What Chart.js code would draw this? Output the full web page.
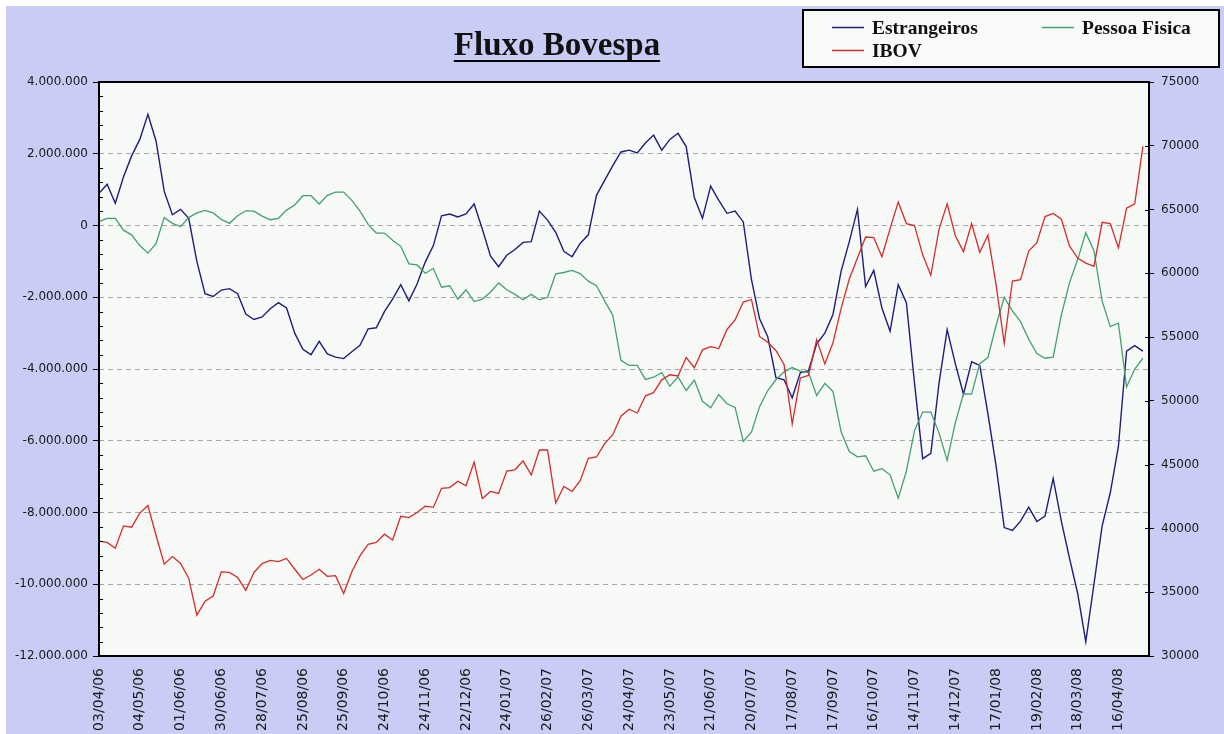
<!DOCTYPE html>
<html>
<head>
<meta charset="utf-8">
<title>Fluxo Bovespa</title>
<script src="https://cdn.jsdelivr.net/npm/chart.js"></script>
<style>
  html, body { margin: 0; padding: 0; background: #fff; }
  #chart { display: block; }
</style>
</head>
<body>
<canvas id="chart" width="1224" height="734"></canvas>
<script>
// one axis label every 20 sessions
const dateLabels = ['03/04/06', '04/05/06', '01/06/06', '30/06/06', '28/07/06', '25/08/06', '25/09/06',
  '24/10/06', '24/11/06', '22/12/06', '24/01/07', '26/02/07', '26/03/07', '24/04/07', '23/05/07',
  '21/06/07', '20/07/07', '17/08/07', '17/09/07', '16/10/07', '14/11/07', '14/12/07', '17/01/08',
  '19/02/08', '18/03/08', '16/04/08'];
const sessionsPerLabel = 20;
const sessionsPerSample = 4;   // values below are read every 4 sessions
const lastSession = 515;

// accumulated flow, R$ millions
const estrangeiros = [0.9, 1.15, 0.62, 1.35, 1.94, 2.4, 3.1, 2.35, 0.95, 0.3,
  0.45, 0.2, -1.0, -1.9, -1.98, -1.8, -1.76, -1.9, -2.47, -2.62,
  -2.55, -2.32, -2.15, -2.3, -3.0, -3.45, -3.6, -3.23, -3.58, -3.67,
  -3.71, -3.52, -3.34, -2.88, -2.85, -2.4, -2.05, -1.65, -2.1, -1.63,
  -1.02, -0.56, 0.27, 0.32, 0.24, 0.32, 0.6, -0.1, -0.85, -1.15,
  -0.83, -0.67, -0.47, -0.45, 0.4, 0.15, -0.19, -0.72, -0.87, -0.5,
  -0.26, 0.84, 1.26, 1.67, 2.05, 2.1, 2.02, 2.3, 2.52, 2.1,
  2.4, 2.57, 2.2, 0.78, 0.2, 1.1, 0.7, 0.34, 0.4, 0.1,
  -1.5, -2.6, -3.1, -4.24, -4.3, -4.8, -4.1, -4.05, -3.3, -3.0,
  -2.48, -1.27, -0.45, 0.45, -1.7, -1.25, -2.3, -2.95, -1.65, -2.15,
  -4.4, -6.5, -6.35, -4.4, -2.9, -3.85, -4.7, -3.8, -3.9, -5.25,
  -6.7, -8.42, -8.5, -8.24, -7.85, -8.25, -8.1, -7.05, -8.24, -9.27,
  -10.25, -11.6, -10.0, -8.38, -7.45, -6.16, -3.5, -3.35, -3.5];

const pessoaFisica = [0.11, 0.2, 0.2, -0.13, -0.26, -0.56, -0.77, -0.5, 0.22, 0.06,
  -0.03, 0.22, 0.35, 0.42, 0.35, 0.17, 0.06, 0.27, 0.41, 0.4,
  0.26, 0.16, 0.2, 0.43, 0.57, 0.83, 0.83, 0.6, 0.84, 0.93,
  0.93, 0.7, 0.4, 0.03, -0.21, -0.21, -0.41, -0.58, -1.07, -1.1,
  -1.33, -1.2, -1.72, -1.68, -2.05, -1.79, -2.12, -2.05, -1.86, -1.6,
  -1.79, -1.92, -2.07, -1.92, -2.07, -2.0, -1.35, -1.31, -1.25, -1.34,
  -1.55, -1.68, -2.1, -2.5, -3.76, -3.9, -3.9, -4.29, -4.23, -4.1,
  -4.48, -4.22, -4.6, -4.31, -4.9, -5.08, -4.71, -4.97, -5.07, -6.02,
  -5.76, -5.05, -4.6, -4.3, -4.08, -3.96, -4.06, -4.1, -4.74, -4.4,
  -4.63, -5.75, -6.3, -6.45, -6.42, -6.85, -6.78, -6.95, -7.6, -6.85,
  -5.71, -5.2, -5.2, -5.78, -6.55, -5.5, -4.69, -4.7, -3.85, -3.68,
  -2.78, -2.0, -2.38, -2.68, -3.17, -3.57, -3.7, -3.67, -2.5, -1.6,
  -0.95, -0.2, -0.7, -2.1, -2.82, -2.72, -4.5, -4.0, -3.7];

// index points
const ibov = [39000, 38900, 38450, 40200, 40100, 41200, 41800, 39450, 37200, 37800,
  37250, 36100, 33200, 34300, 34700, 36600, 36550, 36150, 35150, 36550,
  37250, 37500, 37400, 37650, 36800, 36000, 36350, 36800, 36250, 36300,
  34900, 36600, 37850, 38750, 38900, 39550, 39100, 40950, 40850, 41250,
  41750, 41650, 43150, 43200, 43700, 43350, 45200, 42350, 42900, 42750,
  44500, 44600, 45300, 44200, 46150, 46150, 42000, 43300, 42900, 43750,
  45500, 45600, 46650, 47350, 48800, 49350, 49050, 50400, 50650, 51650,
  52050, 51950, 53400, 52600, 54000, 54250, 54100, 55600, 56350, 57750,
  57950, 55050, 54600, 53950, 52850, 48200, 51800, 52000, 54800, 52900,
  54550, 57250, 59550, 61200, 62850, 62800, 61300, 63500, 65600, 63900,
  63750, 61450, 59850, 63450, 65450, 62950, 61700, 63900, 61650, 63000,
  59100, 54500, 59400, 59500, 61750, 62400, 64450, 64700, 64250, 62150,
  61200, 60800, 60550, 64000, 63900, 62000, 65100, 65450, 69950];

const toPoints = (arr, mult) => arr.map((v, i) => ({ x: i * sessionsPerSample, y: v * mult }));

function fmtDots(v) {
  const s = Math.abs(Math.round(v)).toString().replace(/\B(?=(\d{3})+(?!\d))/g, '.');
  return (v < 0 ? '-' : '') + s;
}

const tickFont = { family: 'DejaVu Sans', size: 12 };
const tickColor = '#1a1a1a';

const frame = {
  id: 'frame',
  beforeDraw(chart) {
    const { ctx, chartArea: a, width, height } = chart;
    ctx.save();
    ctx.fillStyle = '#ffffff';
    ctx.fillRect(0, 0, width, height);
    ctx.fillStyle = '#c9ccf5';
    ctx.fillRect(6, 6, width - 6, height - 6);
    ctx.fillStyle = '#f6f9f6';
    ctx.fillRect(a.left, a.top, a.right - a.left, a.bottom - a.top);
    ctx.restore();
  },
  afterDraw(chart) {
    const { ctx, chartArea: a } = chart;
    const yl = chart.scales.y, yr = chart.scales.y1;
    ctx.save();
    // minor ticks inside the left axis, major ticks inside the right one
    ctx.strokeStyle = '#000';
    ctx.lineWidth = 1;
    ctx.beginPath();
    for (let v = -12e6; v <= 4e6; v += 4e5) {
      if (v % 2e6 === 0) continue;
      const y = Math.round(yl.getPixelForValue(v)) + 0.5;
      ctx.moveTo(a.left, y); ctx.lineTo(a.left + 4, y);
    }
    for (let v = 30000; v <= 75000; v += 5000) {
      const y = Math.round(yr.getPixelForValue(v)) + 0.5;
      ctx.moveTo(a.right - 4, y); ctx.lineTo(a.right, y);
    }
    ctx.stroke();
    // plot border
    ctx.lineWidth = 2;
    ctx.strokeRect(a.left, a.top, a.right - a.left, a.bottom - a.top);

    // title, underlined
    ctx.fillStyle = '#111';
    ctx.font = 'bold 33px "Liberation Serif"';
    ctx.textAlign = 'center';
    ctx.textBaseline = 'alphabetic';
    const title = 'Fluxo Bovespa';
    const tw = ctx.measureText(title).width;
    ctx.fillText(title, 557, 55);
    ctx.beginPath();
    ctx.lineWidth = 2;
    ctx.moveTo(557 - tw / 2, 61); ctx.lineTo(557 + tw / 2, 61);
    ctx.stroke();

    // legend box
    ctx.fillStyle = '#f7faf7';
    ctx.fillRect(803, 10, 416, 57);
    ctx.strokeStyle = '#000';
    ctx.lineWidth = 2;
    ctx.strokeRect(803, 10, 416, 57);
    const spots = [[832, 27], [1042, 27], [832, 50]];
    ctx.font = 'bold 19.5px "Liberation Serif"';
    ctx.textAlign = 'left';
    chart.data.datasets.forEach((ds, i) => {
      const [lx, ly] = spots[i];
      ctx.beginPath();
      ctx.strokeStyle = ds.borderColor;
      ctx.lineWidth = 1.5;
      ctx.moveTo(lx, ly + 0.5); ctx.lineTo(lx + 32, ly + 0.5);
      ctx.stroke();
      ctx.fillStyle = '#111';
      ctx.fillText(ds.label, lx + 40, ly + 7);
    });
    ctx.restore();
  }
};

new Chart(document.getElementById('chart'), {
  type: 'line',
  data: {
    datasets: [
      {
        label: 'Estrangeiros',
        data: toPoints(estrangeiros, 1e6),
        yAxisID: 'y',
        borderColor: '#1e1e7a',
        borderWidth: 1.4,
        order: 2
      },
      {
        label: 'Pessoa Fisica',
        data: toPoints(pessoaFisica, 1e6),
        yAxisID: 'y',
        borderColor: '#45a070',
        borderWidth: 1.3,
        order: 1
      },
      {
        label: 'IBOV',
        data: toPoints(ibov, 1),
        yAxisID: 'y1',
        borderColor: '#d62b2b',
        borderWidth: 1.3,
        order: 0
      }
    ]
  },
  options: {
    responsive: false,
    animation: false,
    events: [],
    layout: { padding: { top: 82, left: 0, right: 0, bottom: 0 } },
    elements: { point: { radius: 0 }, line: { tension: 0 } },
    plugins: { legend: { display: false }, title: { display: false }, tooltip: { enabled: false } },
    scales: {
      x: {
        type: 'linear',
        min: 0,
        max: lastSession,
        afterBuildTicks: s => { s.ticks = dateLabels.map((_, i) => ({ value: i * sessionsPerLabel })); },
        afterFit: s => { s.height = 78; },
        grid: { display: false, drawTicks: false },
        border: { display: false },
        ticks: {
          autoSkip: false,
          minRotation: 90,
          maxRotation: 90,
          padding: 12,
          color: tickColor,
          font: { family: 'DejaVu Sans', size: 14 },
          callback: (v, i) => dateLabels[i]
        }
      },
      y: {
        position: 'left',
        min: -12e6,
        max: 4e6,
        afterFit: s => { s.width = 99; },
        grid: { color: '#a9a9a9', lineWidth: 1, tickColor: '#000', tickLength: 6 },
        border: { display: false, dash: [5, 4] },
        ticks: { stepSize: 2e6, padding: 5, color: tickColor, font: tickFont, callback: v => fmtDots(v) }
      },
      y1: {
        position: 'right',
        min: 30000,
        max: 75000,
        afterFit: s => { s.width = 75; },
        grid: { drawOnChartArea: false, tickColor: '#000', tickLength: 5 },
        border: { display: false },
        ticks: { stepSize: 5000, padding: 7, color: tickColor, font: tickFont, callback: v => String(v) }
      }
    }
  },
  plugins: [frame]
});
</script>
</body>
</html>
